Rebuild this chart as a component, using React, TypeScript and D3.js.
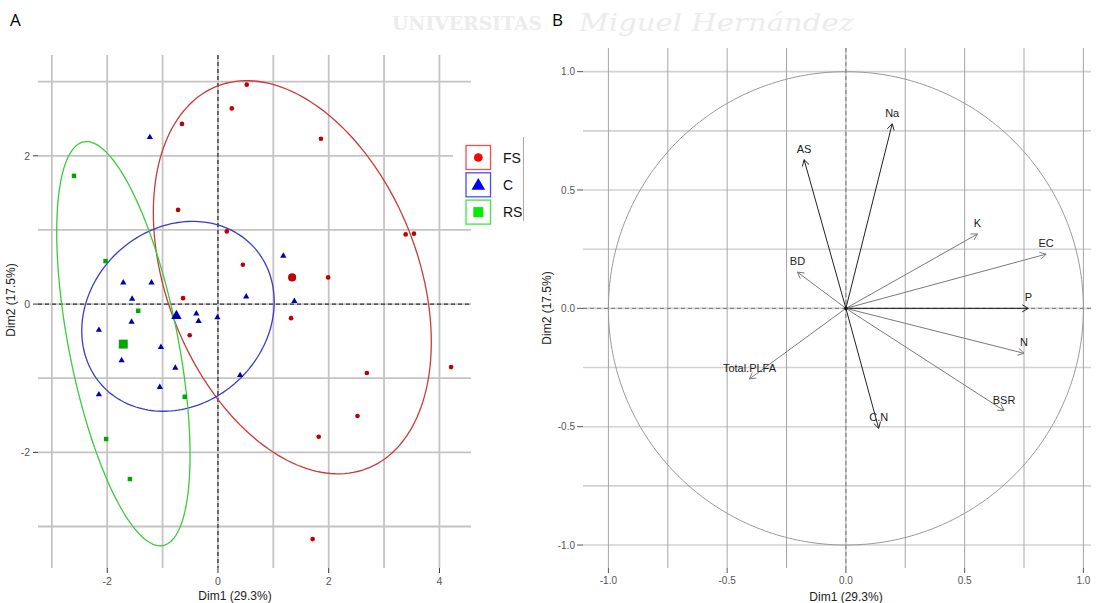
import React from "react";
import * as d3 from "d3";

// ---------- Panel A data (individuals) ----------
const fsPoints: [number, number][] = [
  [0.52, 2.96], [0.25, 2.64], [-0.65, 2.43], [1.86, 2.23], [-0.72, 1.27],
  [0.16, 0.98], [3.39, 0.94], [3.54, 0.95], [0.45, 0.53], [1.99, 0.36],
  [-0.63, 0.08], [1.32, -0.19], [-0.51, -0.42], [2.69, -0.93], [4.21, -0.85],
  [2.52, -1.51], [1.82, -1.79], [1.71, -3.17],
];
const cPoints: [number, number][] = [
  [-1.23, 2.25], [-1.71, 0.29], [-1.2, 0.29], [-1.55, 0.07], [-0.39, -0.13],
  [-0.35, -0.23], [-0.01, -0.18], [-1.56, -0.24], [-2.15, -0.35], [-1.03, -0.58],
  [-1.74, -0.76], [-0.77, -0.86], [-1.05, -1.12], [-2.15, -1.22], [0.4, -0.96],
  [0.51, 0.1], [1.18, 0.65], [1.38, 0.04],
];
const rsPoints: [number, number][] = [
  [-2.6, 1.73], [-2.03, 0.58], [-1.44, -0.09], [-0.6, -1.25], [-2.02, -1.82], [-1.59, -2.36],
];
const groupNames = ["FS", "C", "RS"];
const groupCentroids: [number, number][] = [[1.34, 0.36], [-0.75, -0.16], [-1.71, -0.54]];
// ellipse shape matrices (data units): [sxx, syy, sxy]
const groupEllipses: [number, number, number][] = [
  [6.3, 7.03, -2.19],
  [3.02, 1.64, 0.34],
  [1.45, 7.43, -1.81],
];
const ellipseCentres: [number, number][] = [[1.343, 0.362], [-0.722, -0.165], [-1.708, -0.534]];
const leftXTicks = [-2, 0, 2, 4];
const leftYTicks = [-2, 0, 2];
const leftXGrid = [-3, -2, -1, 0, 1, 2, 3, 4];
const leftYGrid = [-3, -2, -1, 0, 1, 2, 3];

// ---------- Panel B data (variables) ----------
const varNames = ["Na", "AS", "BD", "K", "EC", "P", "N", "BSR", "C.N", "Total.PLFA"];
const varDim1 = [0.195, -0.176, -0.204, 0.554, 0.843, 0.768, 0.75, 0.666, 0.138, -0.406];
const varDim2 = [0.78, 0.628, 0.153, 0.314, 0.229, 0.0, -0.19, -0.432, -0.507, -0.298];
const varDark = [true, true, false, false, false, true, false, false, true, false];
const rightTicks = [-1, -0.5, 0, 0.5, 1];
const rightGrid = [-1, -0.75, -0.5, -0.25, 0, 0.25, 0.5, 0.75, 1];

const FONT = "'Liberation Sans', Arial, sans-serif";

const shapeOf = [d3.symbolCircle, d3.symbolTriangle, d3.symbolSquare];
const pointCol = ["#c00000", "#0000b0", "#00a800"];
const ellCol = ["#cc3b3b", "#3b3bcc", "#3bcc3b"];
const legBox = ["#ff4a4a", "#4a4aff", "#3ee63e"];
const legFill = ["#ff0000", "#0000ff", "#00ee00"];

export default function App() {
  // left scales
  const xL = d3.scaleLinear().domain([-3.25, 4.57]).range([38, 471]);
  const yL = d3.scaleLinear().domain([-3.56, 3.36]).range([568, 55]);
  // right scales
  const xR = d3.scaleLinear().domain([-1.107, 1.032]).range([583, 1091]);
  const yR = d3.scaleLinear().domain([-1.097, 1.1]).range([568, 48]);

  const ellipsePath = (c: [number, number], s: [number, number, number]) => {
    const a = Math.sqrt(s[0]);
    const b = s[2] / a;
    const cc = Math.sqrt(s[1] - b * b);
    const pts = d3.range(0, 2 * Math.PI, Math.PI / 90).map((t) => [
      xL(c[0] + a * Math.cos(t)),
      yL(c[1] + b * Math.cos(t) + cc * Math.sin(t)),
    ]) as [number, number][];
    return d3.line().curve(d3.curveLinearClosed)(pts) || "";
  };

  const groups = [fsPoints, cPoints, rsPoints];
  const smallSize = [17, 17, 20];
  const bigSize = [52, 48, 80];

  const circleR = d3
    .range(0, 2 * Math.PI + 0.01, Math.PI / 180)
    .map((t) => [xR(Math.cos(t)), yR(Math.sin(t))] as [number, number]);

  return (
    <svg width={1098} height={603} style={{ position: "absolute", left: 0, top: 0, background: "#fff" }}>
      <rect x={0} y={0} width={1098} height={603} fill="#fff" />
      {/* watermark */}
      <text x={392} y={30} fontFamily="'DejaVu Serif', serif" fontWeight="bold" fontSize={19} fill="#ececec" textLength={150} lengthAdjust="spacingAndGlyphs">
        UNIVERSITAS
      </text>
      <text x={579} y={31} fontFamily="'DejaVu Serif', serif" fontStyle="italic" fontSize={25} fill="#ececec" textLength={275} lengthAdjust="spacingAndGlyphs">
        Miguel Hernández
      </text>

      {/* ===== Panel A ===== */}
      <text x={10} y={26} fontFamily="'Open Sans', sans-serif" fontSize={17} fill="#000">A</text>
      <g>
        {leftXGrid.map((v) => (
          <line key={"vx" + v} x1={xL(v)} x2={xL(v)} y1={55} y2={568} stroke="#c4c4c4" strokeWidth={1.8} />
        ))}
        {leftYGrid.map((v) => (
          <line key={"hy" + v} x1={38} x2={471} y1={yL(v)} y2={yL(v)} stroke="#c4c4c4" strokeWidth={1.8} />
        ))}
        <line x1={xL(0)} x2={xL(0)} y1={55} y2={568} stroke="#333" strokeWidth={1.3} strokeDasharray="4,3" />
        <line x1={38} x2={471} y1={yL(0)} y2={yL(0)} stroke="#333" strokeWidth={1.3} strokeDasharray="4,3" />
        {/* ticks */}
        {leftYTicks.map((v) => (
          <g key={"lyt" + v}>
            <line x1={33} x2={38} y1={yL(v)} y2={yL(v)} stroke="#333" strokeWidth={1} />
            <text x={30} y={yL(v) + 4} textAnchor="end" fontFamily={FONT} fontSize={10.5} fill="#555">{v}</text>
          </g>
        ))}
        {leftXTicks.map((v) => (
          <g key={"lxt" + v}>
            <line x1={xL(v)} x2={xL(v)} y1={568} y2={573} stroke="#333" strokeWidth={1} />
            <text x={xL(v)} y={585} textAnchor="middle" fontFamily={FONT} fontSize={10.5} fill="#555">{v}</text>
          </g>
        ))}
        <text x={235} y={600} textAnchor="middle" fontFamily={FONT} fontSize={12} fill="#222">Dim1 (29.3%)</text>
        <text transform={`translate(15,${300}) rotate(-90)`} textAnchor="middle" fontFamily={FONT} fontSize={12} fill="#222">Dim2 (17.5%)</text>

        {/* ellipses */}
        {groupEllipses.map((s, i) => (
          <path key={"el" + i} d={ellipsePath(ellipseCentres[i], s)} fill="none" stroke={ellCol[i]} strokeWidth={1.3} />
        ))}
        {/* points */}
        {groups.map((pts, gi) =>
          pts.map((p, j) => (
            <path
              key={`p${gi}-${j}`}
              transform={`translate(${xL(p[0])},${yL(p[1])})`}
              d={d3.symbol().type(shapeOf[gi]).size(smallSize[gi])() || ""}
              fill={pointCol[gi]}
            />
          ))
        )}
        {groupCentroids.map((p, gi) => (
          <path
            key={"cen" + gi}
            transform={`translate(${xL(p[0])},${yL(p[1])})`}
            d={d3.symbol().type(shapeOf[gi]).size(bigSize[gi])() || ""}
            fill={pointCol[gi]}
          />
        ))}

        {/* legend */}
        <rect x={453} y={137} width={70} height={90} fill="#fff" />
        <line x1={523.5} x2={523.5} y1={137} y2={221} stroke="#aaa" strokeWidth={1} />
        {groupNames.map((g, i) => {
          const cy = 157.5 + i * 27.3;
          return (
            <g key={"leg" + g}>
              <rect x={466} y={cy - 12} width={24.5} height={24} fill="#fff" stroke={legBox[i]} strokeWidth={1.3} />
              <path
                transform={`translate(478.3,${cy + (i === 1 ? 1 : 0)})`}
                d={d3.symbol().type(shapeOf[i]).size([60, 80, 100][i])() || ""}
                fill={legFill[i]}
              />
              <text x={503} y={cy + 5} fontFamily={FONT} fontSize={14} fill="#111">{g}</text>
            </g>
          );
        })}
      </g>

      {/* ===== Panel B ===== */}
      <text x={552} y={26} fontFamily="'Open Sans', sans-serif" fontSize={17} fill="#000">B</text>
      <g>
        {rightGrid.map((v) => (
          <line key={"rh" + v} x1={583} x2={1091} y1={yR(v)} y2={yR(v)} stroke="#d2d2d2" strokeWidth={1.6} />
        ))}
        {rightGrid.map((v) => (
          <line key={"rv" + v} x1={xR(v)} x2={xR(v)} y1={48} y2={568} stroke="#a6a6a6" strokeWidth={1} />
        ))}
        <line x1={xR(0)} x2={xR(0)} y1={48} y2={568} stroke="#777" strokeWidth={1} strokeDasharray="4,3" />
        <line x1={583} x2={1091} y1={yR(0)} y2={yR(0)} stroke="#777" strokeWidth={1} strokeDasharray="4,3" />
        <path d={d3.line()(circleR) || ""} fill="none" stroke="#999" strokeWidth={1} />
        {rightTicks.map((v) => (
          <g key={"ryt" + v}>
            <line x1={577} x2={583} y1={yR(v)} y2={yR(v)} stroke="#555" strokeWidth={1} />
            <text x={575} y={yR(v) + 3.5} textAnchor="end" fontFamily={FONT} fontSize={10} fill="#555">{v.toFixed(1)}</text>
          </g>
        ))}
        {rightTicks.map((v) => (
          <g key={"rxt" + v}>
            <line x1={xR(v)} x2={xR(v)} y1={568} y2={573} stroke="#555" strokeWidth={1} />
            <text x={xR(v)} y={584} textAnchor="middle" fontFamily={FONT} fontSize={10} fill="#555">{v.toFixed(1)}</text>
          </g>
        ))}
        <text x={846} y={601} textAnchor="middle" fontFamily={FONT} fontSize={12} fill="#222">Dim1 (29.3%)</text>
        <text transform={`translate(551,${308}) rotate(-90)`} textAnchor="middle" fontFamily={FONT} fontSize={12} fill="#222">Dim2 (17.5%)</text>

        {varNames.map((n, i) => {
          const x0 = xR(0), y0 = yR(0);
          const x1 = xR(varDim1[i]), y1 = yR(varDim2[i]);
          const ang = Math.atan2(y1 - y0, x1 - x0);
          const L = 7, sp = Math.PI / 6;
          const h1 = [x1 - L * Math.cos(ang - sp), y1 - L * Math.sin(ang - sp)];
          const h2 = [x1 - L * Math.cos(ang + sp), y1 - L * Math.sin(ang + sp)];
          const col = varDark[i] ? "#222" : "#7a7a7a";
          return (
            <g key={"var" + n}>
              <line x1={x0} y1={y0} x2={x1} y2={y1} stroke={col} strokeWidth={1} />
              <path d={`M${h1[0]},${h1[1]}L${x1},${y1}L${h2[0]},${h2[1]}`} fill="none" stroke={col} strokeWidth={1} />
              <text x={x1} y={y1 - 7} textAnchor="middle" fontFamily={FONT} fontSize={11} fill="#222">{n}</text>
            </g>
          );
        })}
        <circle cx={xR(0)} cy={yR(0)} r={1.8} fill="#111" />
      </g>
    </svg>
  );
}
